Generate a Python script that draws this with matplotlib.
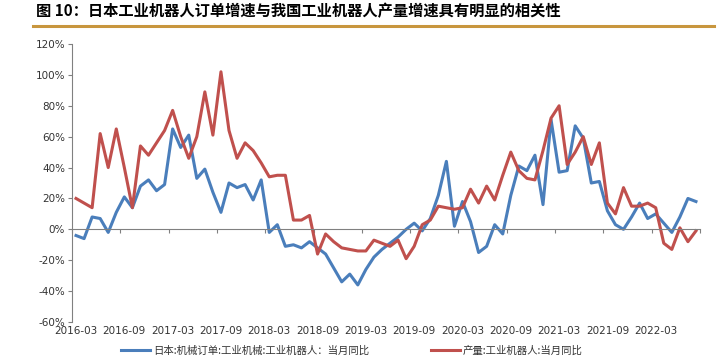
import pandas as pd
import numpy as np
import matplotlib
matplotlib.use("Agg")
import matplotlib.pyplot as plt
from matplotlib import font_manager

# Datos (lectura aproximada del gráfico), 2016-03 .. 2022-08
meses = pd.period_range("2016-03", "2022-08", freq="M").strftime("%Y-%m").tolist()

pedidos_japon = [-4, -6, 8, 7, -2, 11, 21, 14, 28, 32, 25, 29, 65, 53, 61, 33, 39, 24,
                 11, 30, 27, 29, 19, 32, -2, 3, -11, -10, -12, -8, -12, -16, -25, -34,
                 -29, -36, -26, -18, -13, -9, -5, 0, 4, -1, 7, 22, 44, 2, 18, 5, -15,
                 -11, 3, -3, 22, 41, 38, 48, 16, 71, 37, 38, 67, 59, 30, 31, 12, 3, 0,
                 8, 17, 7, 10, 4, -2, 8, 20, 18]

produccion_china = [20, 17, 14, 62, 40, 65, 40, 14, 54, 48, 56, 64, 77, 60, 46, 60, 89, 61,
                    102, 64, 46, 56, 51, 43, 34, 35, 35, 6, 6, 9, -16, -3, -8, -12, -13,
                    -14, -14, -7, -9, -11, -7, -19, -11, 3, 6, 15, 14, 13, 14, 26, 17, 28,
                    19, 35, 50, 38, 33, 32, 51, 72, 80, 42, 50, 60, 42, 56, 17, 10, 27, 15,
                    15, 17, 14, -9, -13, 1, -8, -1]

nombre_azul = "日本:机械订单:工业机械:工业机器人：当月同比"
nombre_rojo = "产量:工业机器人:当月同比"
titulo = "图 10：日本工业机器人订单增速与我国工业机器人产量增速具有明显的相关性"

# Fuentes
disponibles = {f.name for f in font_manager.fontManager.ttflist}
fuente_num = "Liberation Sans Narrow" if "Liberation Sans Narrow" in disponibles else "DejaVu Sans"
fuente_cjk = ["Noto Sans CJK SC", "DejaVu Sans"]

x = np.arange(len(meses))

fig = plt.figure(figsize=(7.21, 3.61), dpi=100)
ax = fig.add_axes([72 / 721, 1 - 322 / 361, 628 / 721, 278 / 361])

ax.plot(x, pedidos_japon, color="#4A7EBB", lw=2.2, solid_joinstyle="round", label=nombre_azul)
ax.plot(x, produccion_china, color="#C0504D", lw=2.2, solid_joinstyle="round", label=nombre_rojo)

ax.set_xlim(-0.5, len(meses) - 0.5)
ax.set_ylim(-60, 120)

# Eje Y
ax.set_yticks(range(-60, 121, 20))
ax.set_yticklabels([f"{v}%" for v in range(-60, 121, 20)], fontsize=7.5, family=fuente_num, color="#333333")
ax.tick_params(axis="y", length=3, width=0.8, color="#808080", pad=2)
ax.spines["left"].set_color("#808080")
ax.spines["top"].set_visible(False)
ax.spines["right"].set_visible(False)

# Eje X en cero con marcas cada 6 meses
ax.spines["bottom"].set_position(("data", 0))
ax.spines["bottom"].set_color("#808080")
ax.set_xticks(np.arange(-0.5, len(meses), 6))
ax.set_xticklabels([])
ax.tick_params(axis="x", length=3, width=0.8, color="#808080")

# Etiquetas de fecha abajo
sec = ax.secondary_xaxis(0)
sec.set_xticks(x[::6])
sec.set_xticklabels(meses[::6], fontsize=7.5, family=fuente_num, color="#333333")
sec.tick_params(length=0, pad=3)
sec.spines["bottom"].set_visible(False)

# Título y línea dorada
fig.text(36 / 721, 1 - 11 / 361, titulo, fontsize=11, fontweight="bold",
         family=fuente_cjk, va="center", ha="left", color="black")
fig.add_artist(plt.Line2D([33 / 721, 714 / 721], [1 - 26 / 361, 1 - 26 / 361],
                          color="#C8963E", lw=2.2))

fig.legend(loc="center", bbox_to_anchor=(352 / 721, 1 - 351 / 361), ncol=2, frameon=False,
           prop={"family": fuente_cjk, "size": 7.5}, handlelength=2.7, columnspacing=6.0,
           handletextpad=0.3, labelcolor="#333333")

fig.savefig("out.png", dpi=100)
